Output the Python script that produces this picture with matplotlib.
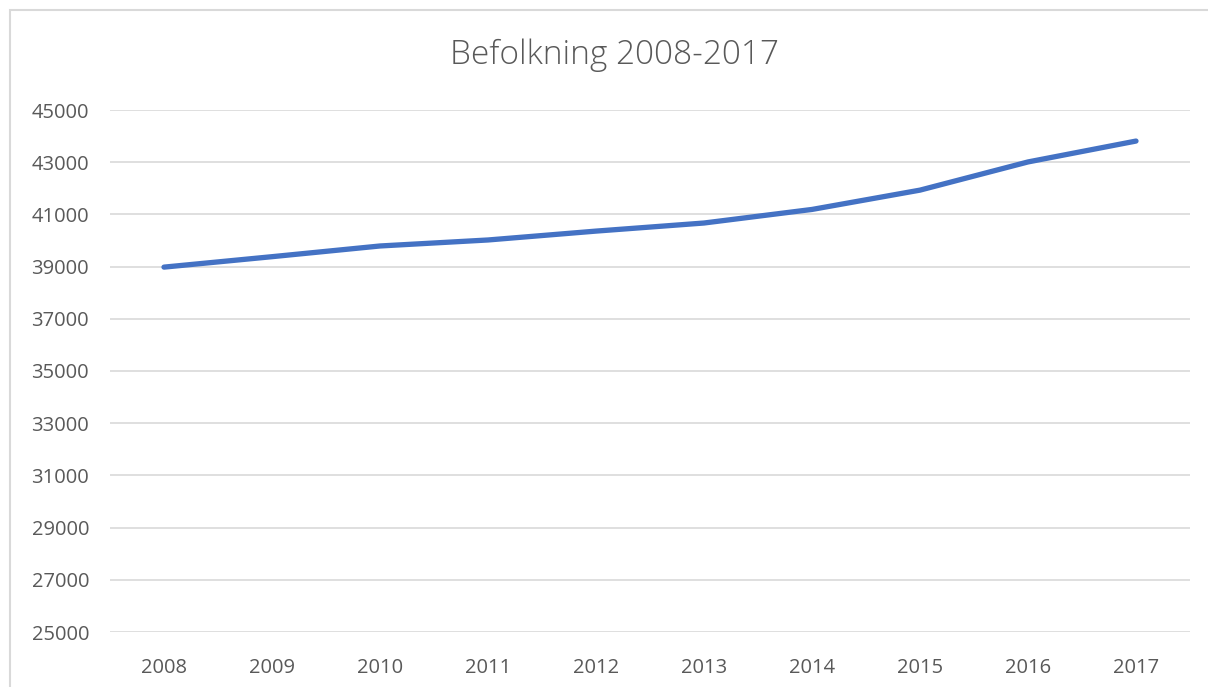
import matplotlib.pyplot as plt
from matplotlib.patches import Rectangle

# population per year
years = [2008, 2009, 2010, 2011, 2012, 2013, 2014, 2015, 2016, 2017]
population = [38980, 39380, 39790, 40020, 40360, 40670, 41190, 41930, 43010, 43810]
yticks = list(range(25000, 45001, 2000))
title = "Befolkning 2008-2017"

plt.rcParams['font.family'] = ['Open Sans', 'DejaVu Sans']
grey = '#595959'

W, H = 1208, 687
fig = plt.figure(figsize=(W / 100, H / 100), dpi=100)

# chart frame, clipped at right and bottom like the screenshot
fig.patches.append(Rectangle((10 / W, -0.1), 1.2, 1 - 10 / H + 0.1,
                             transform=fig.transFigure, fill=False,
                             edgecolor='#d9d9d9', linewidth=1.5))

ax = fig.add_axes([110 / W, 1 - 632 / H, (1190 - 110) / W, (632 - 110) / H])
ax.plot(years, population, color='#4472C4', linewidth=3.8,
        solid_capstyle='round', solid_joinstyle='round')

ax.set_xlim(2007.5, 2017.5)
ax.set_ylim(25000, 45000)
ax.set_xticks(years)
ax.set_xticklabels([str(y) for y in years])
ax.set_yticks(yticks)
ax.set_yticklabels([str(v) for v in yticks])
ax.grid(axis='y', color='#d9d9d9', linewidth=1.2)
ax.set_axisbelow(True)
for s in ax.spines.values():
    s.set_visible(False)
ax.tick_params(length=0, labelsize=14.5, colors=grey)
ax.tick_params(axis='y', pad=15)
ax.tick_params(axis='x', pad=19)

fig.text(614 / W, 1 - 55 / H, title, ha='center', va='center',
         fontsize=24, color=grey, fontweight='light')

fig.savefig('out.png', dpi=100)
